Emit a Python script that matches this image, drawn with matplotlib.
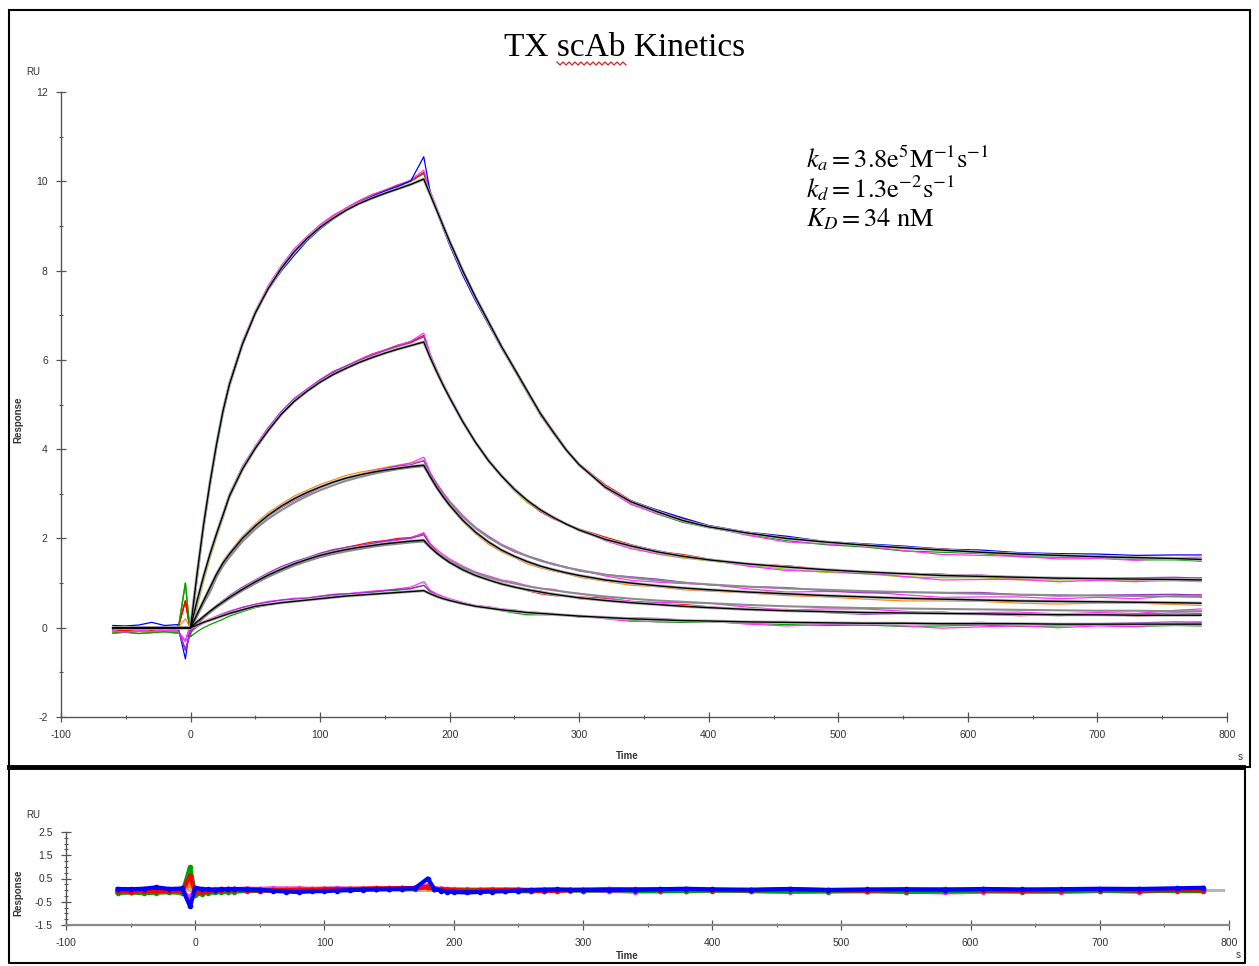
import numpy as np
import matplotlib
matplotlib.use('Agg')
import matplotlib.pyplot as plt
from matplotlib.lines import Line2D
from matplotlib.patches import Rectangle
from matplotlib.ticker import MultipleLocator

plt.rcParams['font.family'] = ['Liberation Sans', 'DejaVu Sans']
plt.rcParams['mathtext.fontset'] = 'stix'
plt.rcParams['axes.unicode_minus'] = False

# time grid (s) shared by every curve
t = [-60, -50, -40, -30, -20, -10, -4, 0,
     5, 10, 15, 20, 25, 30, 40, 50, 60, 70, 80, 90, 100, 110, 120, 130, 140, 150, 160, 170,
     180,
     185, 190, 195, 200, 210, 220, 230, 240, 250, 260, 270, 280, 290, 300, 320, 340, 360, 380, 400,
     430, 460, 490, 520, 550, 580, 610, 640, 670, 700, 730, 760, 780]

base = [0, 0, 0, 0, 0, 0, 0, 0]

# fitted curves (black), one per concentration (RU)
fit1 = base + [1.2, 2.3, 3.25, 4.1, 4.85, 5.45, 6.35, 7.05, 7.6, 8.05, 8.42, 8.72, 8.97, 9.17, 9.35, 9.5, 9.62, 9.73, 9.83, 9.93,
               10.05,
               9.7, 9.35, 9.0, 8.65, 8.0, 7.4, 6.85, 6.3, 5.8, 5.3, 4.8, 4.38, 3.98, 3.65, 3.15, 2.82, 2.6, 2.4, 2.26, 2.12,
               2.0, 1.92, 1.85, 1.79, 1.74, 1.69, 1.65, 1.62, 1.59, 1.57, 1.55, 1.53]
fit2 = base + [0.6, 1.15, 1.65, 2.1, 2.52, 2.95, 3.55, 4.02, 4.42, 4.78, 5.07, 5.3, 5.5, 5.67, 5.81, 5.94, 6.05, 6.15, 6.24, 6.32,
               6.4,
               6.05, 5.73, 5.43, 5.15, 4.62, 4.15, 3.74, 3.4, 3.1, 2.85, 2.64, 2.47, 2.32, 2.19, 1.98, 1.83, 1.7, 1.6, 1.52, 1.43,
               1.36, 1.3, 1.25, 1.21, 1.17, 1.15, 1.13, 1.11, 1.1, 1.09, 1.08, 1.07]
fit3 = base + [0.3, 0.6, 0.9, 1.2, 1.45, 1.65, 2.0, 2.28, 2.52, 2.72, 2.89, 3.03, 3.15, 3.26, 3.35, 3.42, 3.48, 3.53, 3.57, 3.61,
               3.64,
               3.38, 3.14, 2.93, 2.74, 2.41, 2.14, 1.92, 1.74, 1.6, 1.48, 1.38, 1.3, 1.23, 1.17, 1.07, 1.0, 0.94, 0.89, 0.85, 0.8,
               0.76, 0.72, 0.69, 0.66, 0.64, 0.62, 0.6, 0.59, 0.58, 0.57, 0.56, 0.55]
fit4 = base + [0.13, 0.25, 0.37, 0.48, 0.58, 0.68, 0.86, 1.03, 1.18, 1.31, 1.43, 1.53, 1.62, 1.69, 1.75, 1.8, 1.84, 1.88, 1.91, 1.94,
               1.96,
               1.8, 1.67, 1.56, 1.46, 1.3, 1.17, 1.07, 0.98, 0.91, 0.85, 0.8, 0.75, 0.71, 0.67, 0.61, 0.56, 0.52, 0.48, 0.45, 0.41,
               0.38, 0.36, 0.34, 0.33, 0.32, 0.31, 0.3, 0.29, 0.29, 0.28, 0.28, 0.28]
fit5 = base + [0.06, 0.12, 0.17, 0.22, 0.27, 0.32, 0.4, 0.48, 0.52, 0.56, 0.59, 0.62, 0.65, 0.68, 0.71, 0.73, 0.75, 0.77, 0.79, 0.81,
               0.83,
               0.76, 0.7, 0.65, 0.61, 0.54, 0.48, 0.44, 0.4, 0.37, 0.34, 0.32, 0.3, 0.28, 0.26, 0.23, 0.2, 0.18, 0.16, 0.15, 0.13,
               0.12, 0.11, 0.1, 0.1, 0.09, 0.09, 0.09, 0.08, 0.08, 0.08, 0.08, 0.08]

# second (grey) fit that separates from the black one at the two lower concentrations
grey3 = base + [0.28, 0.55, 0.8, 1.13, 1.38, 1.58, 1.93, 2.21, 2.44, 2.63, 2.8, 2.95, 3.08, 3.19, 3.29, 3.37, 3.44, 3.5, 3.55, 3.59,
                3.62,
                3.4, 3.18, 2.98, 2.8, 2.49, 2.23, 2.02, 1.85, 1.71, 1.6, 1.5, 1.42, 1.35, 1.29, 1.19, 1.12, 1.06, 1.01, 0.97, 0.92,
                0.88, 0.85, 0.82, 0.8, 0.78, 0.76, 0.74, 0.73, 0.72, 0.71, 0.7, 0.69]
grey4 = base + [0.12, 0.23, 0.34, 0.45, 0.55, 0.65, 0.83, 0.99, 1.14, 1.27, 1.39, 1.49, 1.58, 1.65, 1.71, 1.76, 1.81, 1.85, 1.88, 1.91,
                1.93,
                1.81, 1.69, 1.59, 1.5, 1.35, 1.23, 1.13, 1.05, 0.99, 0.93, 0.88, 0.84, 0.8, 0.76, 0.7, 0.65, 0.61, 0.58, 0.55, 0.51,
                0.48, 0.46, 0.44, 0.43, 0.42, 0.41, 0.4, 0.39, 0.38, 0.38, 0.37, 0.37]

# residuals (measured - fit) per replicate colour, also drawn in the lower panel
res_blue = [0.05, 0.04, 0.06, 0.12, 0.05, 0.07, -0.70, 0.10,
            0.05, 0.03, 0.02, 0.03, 0.04, 0.05, 0.03, 0.02, -0.03, -0.06, -0.08, -0.05, -0.04, -0.02, 0.0, 0.02, 0.04, 0.05, 0.06, 0.08,
            0.50,
            0.05, -0.02, -0.06, -0.08, -0.10, -0.08, -0.06, -0.04, -0.02, 0.0, 0.02, 0.03, 0.02, 0.01, 0.0, 0.02, 0.04, 0.06, 0.03, 0.02,
            0.05, 0.01, 0.03, 0.04, 0.02, 0.05, 0.03, 0.04, 0.06, 0.05, 0.08, 0.10]
res_red = [-0.04, -0.06, -0.03, -0.05, -0.02, -0.04, 0.60, -0.10,
           -0.06, -0.04, -0.02, 0.0, 0.02, 0.01, 0.0, -0.02, -0.01, 0.0, 0.01, 0.02, 0.03, 0.04, 0.05, 0.06, 0.08, 0.07, 0.09, 0.08,
           0.15,
           0.06, 0.04, 0.02, 0.0, -0.02, -0.01, 0.0, 0.02, 0.01, -0.02, -0.04, -0.03, 0.0, 0.02, 0.05, 0.03, 0.01, 0.04, 0.02, -0.01,
           0.03, 0.0, -0.02, 0.01, 0.03, -0.01, -0.03, 0.0, 0.02, -0.02, 0.01, 0.0]
res_green = [-0.12, -0.10, -0.13, -0.11, -0.09, -0.12, 1.00, -0.20,
             -0.15, -0.12, -0.10, -0.09, -0.08, -0.06, -0.04, -0.03, -0.01, 0.0, 0.01, 0.0, 0.02, 0.03, 0.04, 0.05, 0.04, 0.06, 0.05, 0.07,
             0.12,
             0.05, 0.03, 0.01, 0.0, -0.01, 0.0, 0.01, -0.02, -0.04, -0.05, -0.03, -0.01, 0.0, -0.02, 0.0, -0.03, -0.05, -0.04, -0.02, -0.03,
             -0.05, -0.06, -0.04, -0.07, -0.05, -0.03, -0.06, -0.04, -0.02, -0.05, -0.03, -0.04]
res_magenta = [-0.08, -0.10, -0.07, -0.09, -0.06, -0.08, -0.30, 0.05,
               0.01, 0.02, 0.03, 0.04, 0.05, 0.05, 0.06, 0.05, 0.07, 0.06, 0.07, 0.05, 0.06, 0.07, 0.05, 0.06, 0.07, 0.07, 0.08, 0.10,
               0.20,
               0.08, 0.06, 0.05, 0.04, 0.03, 0.02, 0.03, 0.02, 0.03, 0.01, 0.0, 0.02, -0.01, 0.01, -0.03, -0.06, -0.04, -0.02, 0.0, -0.05,
               -0.08, -0.04, -0.02, -0.06, -0.10, -0.07, -0.05, -0.08, -0.04, -0.06, 0.02, 0.05]
res_orange = [0.0, -0.02, 0.01, -0.01, 0.0, -0.02, 0.20, 0.0,
              0.0, 0.01, 0.02, 0.03, 0.04, 0.04, 0.05, 0.05, 0.06, 0.05, 0.06, 0.05, 0.06, 0.05, 0.06, 0.06, 0.05, 0.06, 0.07, 0.08,
              0.10,
              0.04, 0.02, 0.0, -0.02, -0.03, -0.04, -0.05, -0.04, -0.03, -0.05, -0.04, -0.03, -0.02, -0.04, -0.03, -0.05, -0.02, -0.04, -0.03, -0.02,
              -0.04, -0.03, -0.05, -0.06, -0.04, -0.03, -0.05, -0.06, -0.03, -0.02, -0.04, -0.05]
res_purple = [-0.02, 0.0, -0.03, 0.02, -0.01, 0.0, -0.50, -0.10,
              -0.04, -0.02, 0.0, 0.02, 0.03, 0.04, 0.05, 0.04, 0.05, 0.06, 0.05, 0.04, 0.05, 0.06, 0.05, 0.04, 0.05, 0.06, 0.07, 0.06,
              0.12,
              0.05, 0.03, 0.02, 0.01, 0.0, 0.01, 0.02, 0.0, -0.01, 0.01, 0.02, 0.0, 0.01, -0.02, 0.0, 0.02, 0.03, 0.01, -0.01, 0.0,
              0.02, -0.02, -0.04, -0.01, 0.01, 0.03, 0.0, -0.02, 0.01, 0.03, 0.05, 0.04]

c_blue, c_red, c_green = '#0000ff', '#ff0000', '#00a000'
c_mag, c_orange, c_purple, c_lime = '#ff33ff', '#ff8c1a', '#9933cc', '#99cc00'

# (fit the replicate sits on, its residual, colour)
replicates = [
    (fit1, res_green, c_green), (fit1, res_red, c_red), (fit1, res_magenta, c_mag), (fit1, res_blue, c_blue),
    (fit2, res_green, c_lime), (fit2, res_red, c_red), (fit2, res_magenta, c_mag), (fit2, res_purple, c_purple),
    (fit3, res_orange, c_orange), (grey3, res_magenta, c_mag), (grey3, res_purple, c_purple),
    (fit4, res_red, c_red), (grey4, res_magenta, c_mag), (fit4, res_purple, c_purple),
    (fit5, res_green, c_green), (fit5, res_magenta, c_mag), (fit5, res_purple, c_purple),
]

W, H = 1259, 966
fig = plt.figure(figsize=(W / 100, H / 100), dpi=100)


def fx(px):
    return px / W


def fy(py):
    return 1 - py / H


ax = fig.add_axes([fx(61), fy(717), fx(1227) - fx(61), fy(92) - fy(717)])
axr = fig.add_axes([fx(66), fy(925), fx(1229) - fx(66), fy(832) - fy(925)])

tt = np.array(t)
for f, r, c in replicates:
    ax.plot(tt, np.array(f) + np.array(r), color=c, lw=0.9, zorder=2)

# grey halo under each black fit, plus the separate grey fits
for f in [fit1, fit2, fit3, fit4, fit5]:
    ax.plot(tt, f, color='#b4b4b4', lw=2.2, zorder=3, solid_capstyle='butt')
for f in [grey3, grey4]:
    ax.plot(tt, f, color='#8c8c8c', lw=1.5, zorder=3)
for f in [fit1, fit2, fit3, fit4, fit5]:
    ax.plot(tt, f, color='black', lw=1.0, zorder=4)

# residual panel
axr.plot([-60, 795], [0, 0], color='#b5b5b5', lw=2.2, zorder=1)
for r, c in [(res_purple, c_purple), (res_orange, c_orange), (res_magenta, c_mag),
             (res_green, c_green), (res_red, c_red), (res_blue, c_blue)]:
    axr.plot(tt, r, color=c, lw=3.0, marker='o', ms=3, zorder=2)

for a in (ax, axr):
    for s in ('top', 'right'):
        a.spines[s].set_visible(False)
    for s in ('left', 'bottom'):
        a.spines[s].set_color('#555555')
        a.spines[s].set_linewidth(1.0)
    a.set_xlim(-100, 800)
    a.xaxis.set_major_locator(MultipleLocator(100))
    a.xaxis.set_minor_locator(MultipleLocator(50))
    a.tick_params(which='major', direction='inout', length=7, width=0.9, colors='#555555',
                  labelsize=7.5, labelcolor='#333333', pad=6)
    a.tick_params(which='minor', direction='inout', length=3, width=0.8, colors='#555555')

ax.set_ylim(-2, 12)
ax.yaxis.set_major_locator(MultipleLocator(2))
ax.yaxis.set_minor_locator(MultipleLocator(1))

axr.set_ylim(-1.5, 2.5)
axr.set_yticks([-1.5, -0.5, 0.5, 1.5, 2.5])
axr.yaxis.set_minor_locator(MultipleLocator(0.25))
axr.spines['bottom'].set_color('#8a8a8a')
axr.spines['bottom'].set_linewidth(1.6)

# axis captions
lab = dict(fontsize=7, color='#333333', ha='center', va='center')
fig.text(fx(33), fy(72), 'RU', **lab)
fig.text(fx(18), fy(420), 'Response', rotation=90, fontweight='bold', **lab)
fig.text(fx(627), fy(756), 'Time', fontweight='bold', **lab)
fig.text(fx(1240), fy(757), 's', **lab)
fig.text(fx(33), fy(815), 'RU', **lab)
fig.text(fx(18), fy(893), 'Response', rotation=90, fontweight='bold', **lab)
fig.text(fx(627), fy(956), 'Time', fontweight='bold', **lab)
fig.text(fx(1238), fy(955), 's', **lab)

# title and kinetic constants
fig.text(fx(625), fy(48), 'TX scAb Kinetics', fontsize=24, family='Liberation Serif',
         ha='center', va='center')
sq_x = np.arange(557, 628, 3)
sq_y = np.where(np.arange(len(sq_x)) % 2 == 0, 62, 65)
fig.add_artist(Line2D(fx(sq_x), fy(sq_y), color='#e02020', lw=0.9, transform=fig.transFigure))

kin = [r'$k_a = 3.8\mathrm{e}^{5}\mathrm{M}^{-1}\mathrm{s}^{-1}$',
       r'$k_d = 1.3\mathrm{e}^{-2}\mathrm{s}^{-1}$',
       r'$K_D = 34\ \mathrm{nM}$']
for s, yb in zip(kin, [167, 197, 226]):
    fig.text(fx(806), fy(yb), s, fontsize=19, ha='left', va='baseline')

# frames
fig.add_artist(Rectangle((fx(9), fy(767)), fx(1250) - fx(9), fy(10) - fy(767),
                         transform=fig.transFigure, fill=False, lw=1.5, ec='black'))
fig.add_artist(Line2D([fx(9), fx(1243)], [fy(767), fy(767)], lw=3.5, color='black',
                      transform=fig.transFigure))
fig.add_artist(Line2D([fx(9), fx(9), fx(1245), fx(1245)], [fy(767), fy(963), fy(963), fy(769)],
                      lw=1.5, color='black', transform=fig.transFigure))

fig.savefig('out.png', dpi=100)
